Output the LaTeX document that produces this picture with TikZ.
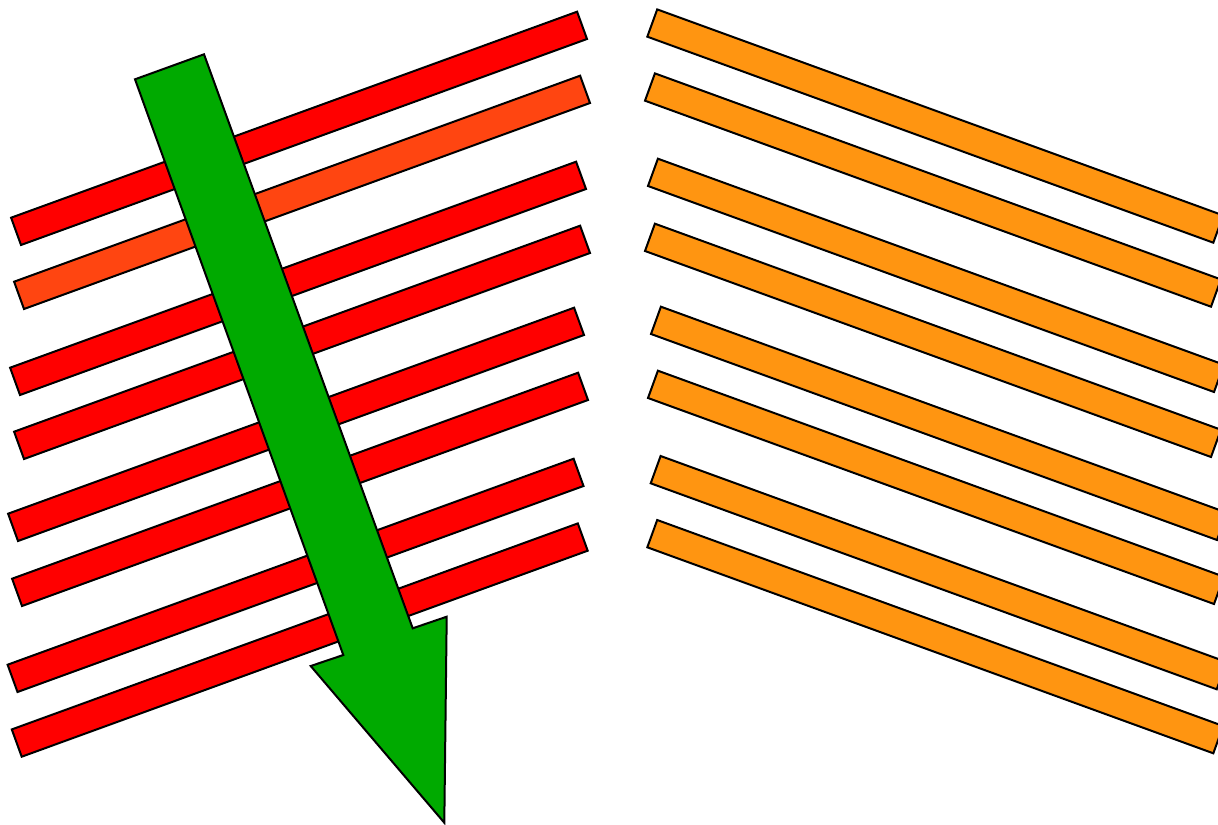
\documentclass[tikz,border=0pt]{standalone}
\definecolor{barred}{HTML}{FF0000}
\definecolor{barorred}{HTML}{FF4511}
\definecolor{barorange}{HTML}{FF9511}
\definecolor{arrowgreen}{HTML}{00AA00}
\tikzset{
  outl/.style={draw=black, line width=1pt, line join=miter},
  redbar/.style={outl, fill=barred},
  orredbar/.style={outl, fill=barorred},
  orangebar/.style={outl, fill=barorange},
  greenarrow/.style={outl, fill=arrowgreen}
}
\begin{document}
\begin{tikzpicture}[x=0.5pt,y=-0.5pt]
\useasboundingbox (0,0) rectangle (1218,824);
\clip (0,0) rectangle (1218,824);
% red bars (left), given by bottom-left corner
\foreach \bx/\by/\st in {21/245/redbar, 24/309/orredbar, 20/395/redbar, 24/459/redbar, 18/541/redbar, 22/606/redbar, 17.5/692/redbar, 21.7/756.7/redbar}{
  \draw[\st] (\bx,\by) -- ++(566,-206) -- ++(-9.9,-27.3) -- ++(-566,206) -- cycle;
}
% orange bars (right), given by bottom-left corner
\foreach \bx/\by in {647.3/36.7, 645/100.7, 648/186, 645/251, 651/334, 648/398, 650.7/483.3, 647.3/547.3}{
  \draw[orangebar] (\bx,\by) -- ++(566,206) -- ++(9.9,-27.3) -- ++(-566,-206) -- cycle;
}
% green arrow
\draw[greenarrow] (135,79.3) -- (204,54.3) -- (412.7,628.3) -- (446.7,616.7) -- (444.3,822.7) -- (310.7,666) -- (343.3,655) -- cycle;
\end{tikzpicture}
\end{document}
